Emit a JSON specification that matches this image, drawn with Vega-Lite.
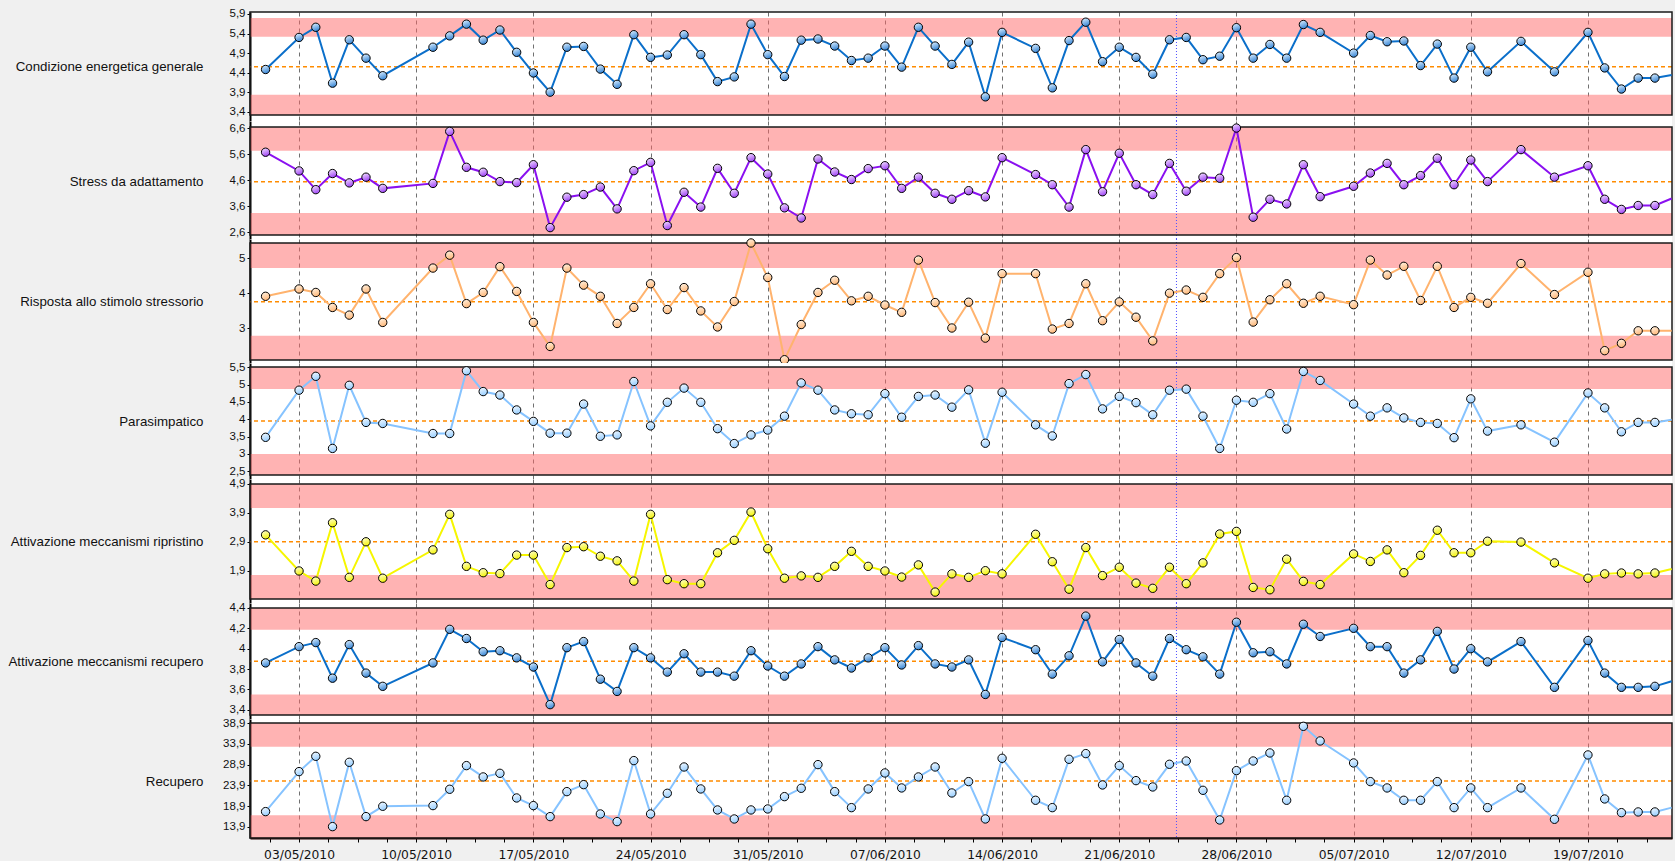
{
"$schema": "https://vega.github.io/schema/vega-lite/v6.json",
"background": "#F0F0F0",
"padding": {"left": 7, "top": 7, "right": 1, "bottom": 0},
"spacing": 0,
"bounds": "flush",
"config": {
  "font": "Liberation Sans",
  "view": {"stroke": null, "fill": "white"},
  "axis": {"labelOverlap": false, "labelFont": "Liberation Sans", "titleFont": "Liberation Sans", "labelFontSize": 11.5, "titleFontSize": 13.3, "titleFontWeight": "normal", "labelColor": "#111", "titleColor": "#111"}
},
"datasets": {
  "main": [
    {"d":"2010-05-01T00:00","a":4.48,"b":5.68,"c":3.91,"p":3.48,"r":3.14,"m":3.86,"u":17.55},
    {"d":"2010-05-03T00:00","a":5.30,"b":4.96,"c":4.12,"p":4.84,"r":1.89,"m":4.02,"u":27.22},
    {"d":"2010-05-04T00:00","a":5.56,"b":4.24,"c":4.02,"p":5.24,"r":1.54,"m":4.06,"u":30.92},
    {"d":"2010-05-05T00:00","a":4.13,"b":4.86,"c":3.59,"p":3.16,"r":3.56,"m":3.71,"u":13.92},
    {"d":"2010-05-06T00:00","a":5.24,"b":4.50,"c":3.37,"p":4.98,"r":1.67,"m":4.04,"u":29.47},
    {"d":"2010-05-07T00:00","a":4.77,"b":4.72,"c":4.12,"p":3.91,"r":2.90,"m":3.76,"u":16.34},
    {"d":"2010-05-08T00:00","a":4.32,"b":4.29,"c":3.16,"p":3.88,"r":1.64,"m":3.63,"u":18.84},
    {"d":"2010-05-11T00:00","a":5.05,"b":4.48,"c":4.72,"p":3.59,"r":2.62,"m":3.86,"u":19.00},
    {"d":"2010-05-12T00:00","a":5.34,"b":6.48,"c":5.09,"p":3.59,"r":3.85,"m":4.19,"u":22.95},
    {"d":"2010-05-13T00:00","a":5.64,"b":5.10,"c":3.70,"p":5.40,"r":2.05,"m":4.10,"u":28.67},
    {"d":"2010-05-14T00:00","a":5.23,"b":4.91,"c":4.02,"p":4.80,"r":1.83,"m":3.97,"u":25.93},
    {"d":"2010-05-15T00:00","a":5.49,"b":4.55,"c":4.76,"p":4.70,"r":1.80,"m":3.98,"u":26.81},
    {"d":"2010-05-16T00:00","a":4.92,"b":4.51,"c":4.05,"p":4.27,"r":2.44,"m":3.91,"u":20.85},
    {"d":"2010-05-17T00:00","a":4.39,"b":5.20,"c":3.16,"p":3.94,"r":2.44,"m":3.82,"u":19.00},
    {"d":"2010-05-18T00:00","a":3.90,"b":2.78,"c":2.47,"p":3.60,"r":1.42,"m":3.45,"u":16.34},
    {"d":"2010-05-19T00:00","a":5.05,"b":3.95,"c":4.72,"p":3.60,"r":2.70,"m":4.01,"u":22.38},
    {"d":"2010-05-20T00:00","a":5.07,"b":4.05,"c":4.23,"p":4.44,"r":2.73,"m":4.07,"u":24.07},
    {"d":"2010-05-21T00:00","a":4.49,"b":4.34,"c":3.91,"p":3.51,"r":2.40,"m":3.70,"u":16.98},
    {"d":"2010-05-22T00:00","a":4.10,"b":3.50,"c":3.13,"p":3.55,"r":2.24,"m":3.58,"u":15.13},
    {"d":"2010-05-23T00:00","a":5.37,"b":4.97,"c":3.59,"p":5.09,"r":1.54,"m":4.01,"u":29.88},
    {"d":"2010-05-24T00:00","a":4.79,"b":5.29,"c":4.27,"p":3.81,"r":3.85,"m":3.91,"u":16.98},
    {"d":"2010-05-25T00:00","a":4.85,"b":2.86,"c":3.53,"p":4.49,"r":1.59,"m":3.77,"u":21.98},
    {"d":"2010-05-26T00:00","a":5.37,"b":4.14,"c":4.16,"p":4.90,"r":1.45,"m":3.95,"u":28.34},
    {"d":"2010-05-27T00:00","a":4.86,"b":3.57,"c":3.49,"p":4.49,"r":1.45,"m":3.77,"u":23.03},
    {"d":"2010-05-28T00:00","a":4.17,"b":5.06,"c":3.03,"p":3.73,"r":2.52,"m":3.77,"u":17.95},
    {"d":"2010-05-29T00:00","a":4.29,"b":4.10,"c":3.76,"p":3.30,"r":2.95,"m":3.73,"u":15.77},
    {"d":"2010-05-30T00:00","a":5.64,"b":5.47,"c":5.44,"p":3.55,"r":3.93,"m":3.98,"u":17.95},
    {"d":"2010-05-31T00:00","a":4.86,"b":4.84,"c":4.45,"p":3.69,"r":2.66,"m":3.83,"u":18.19},
    {"d":"2010-06-01T00:00","a":4.30,"b":3.54,"c":2.09,"p":4.09,"r":1.64,"m":3.73,"u":21.17},
    {"d":"2010-06-02T00:00","a":5.23,"b":3.15,"c":3.10,"p":5.05,"r":1.72,"m":3.85,"u":23.19},
    {"d":"2010-06-03T00:00","a":5.26,"b":5.42,"c":4.02,"p":4.84,"r":1.67,"m":4.02,"u":28.91},
    {"d":"2010-06-04T00:00","a":5.08,"b":4.92,"c":4.37,"p":4.27,"r":2.05,"m":3.89,"u":22.38},
    {"d":"2010-06-05T00:00","a":4.71,"b":4.63,"c":3.78,"p":4.16,"r":2.57,"m":3.81,"u":18.51},
    {"d":"2010-06-06T00:00","a":4.77,"b":5.05,"c":3.91,"p":4.13,"r":2.05,"m":3.91,"u":23.03},
    {"d":"2010-06-07T00:00","a":5.08,"b":5.16,"c":3.66,"p":4.74,"r":1.89,"m":4.01,"u":26.89},
    {"d":"2010-06-08T00:00","a":4.54,"b":4.29,"c":3.45,"p":4.06,"r":1.68,"m":3.84,"u":23.27},
    {"d":"2010-06-09T00:00","a":5.56,"b":4.72,"c":4.95,"p":4.66,"r":2.10,"m":4.03,"u":25.93},
    {"d":"2010-06-10T00:00","a":5.08,"b":4.10,"c":3.73,"p":4.70,"r":1.16,"m":3.85,"u":28.34},
    {"d":"2010-06-11T00:00","a":4.61,"b":3.87,"c":3.00,"p":4.35,"r":1.79,"m":3.82,"u":22.06},
    {"d":"2010-06-12T00:00","a":5.18,"b":4.20,"c":3.74,"p":4.85,"r":1.67,"m":3.89,"u":24.80},
    {"d":"2010-06-13T00:00","a":3.78,"b":3.96,"c":2.71,"p":3.31,"r":1.90,"m":3.55,"u":15.77},
    {"d":"2010-06-14T00:00","a":5.43,"b":5.47,"c":4.56,"p":4.78,"r":1.79,"m":4.11,"u":30.44},
    {"d":"2010-06-16T00:00","a":5.02,"b":4.82,"c":4.56,"p":3.84,"r":3.16,"m":3.99,"u":20.29},
    {"d":"2010-06-17T00:00","a":4.01,"b":4.43,"c":2.97,"p":3.52,"r":2.21,"m":3.75,"u":18.51},
    {"d":"2010-06-18T00:00","a":5.22,"b":3.57,"c":3.13,"p":5.03,"r":1.26,"m":3.93,"u":30.20},
    {"d":"2010-06-19T00:00","a":5.69,"b":5.78,"c":4.27,"p":5.29,"r":2.70,"m":4.32,"u":31.57},
    {"d":"2010-06-20T00:00","a":4.68,"b":4.16,"c":3.21,"p":4.30,"r":1.73,"m":3.87,"u":23.99},
    {"d":"2010-06-21T00:00","a":5.05,"b":5.64,"c":3.75,"p":4.66,"r":2.02,"m":4.09,"u":28.67},
    {"d":"2010-06-22T00:00","a":4.79,"b":4.43,"c":3.31,"p":4.48,"r":1.47,"m":3.86,"u":25.04},
    {"d":"2010-06-23T00:00","a":4.36,"b":4.05,"c":2.63,"p":4.13,"r":1.29,"m":3.73,"u":23.51},
    {"d":"2010-06-24T00:00","a":5.24,"b":5.25,"c":4.00,"p":4.84,"r":2.02,"m":4.10,"u":28.99},
    {"d":"2010-06-25T00:00","a":5.30,"b":4.18,"c":4.09,"p":4.87,"r":1.45,"m":3.99,"u":29.79},
    {"d":"2010-06-26T00:00","a":4.73,"b":4.72,"c":3.88,"p":4.09,"r":2.17,"m":3.92,"u":22.70},
    {"d":"2010-06-27T00:00","a":4.82,"b":4.68,"c":4.56,"p":3.16,"r":3.17,"m":3.75,"u":15.53},
    {"d":"2010-06-28T00:00","a":5.55,"b":6.61,"c":5.02,"p":4.55,"r":3.26,"m":4.26,"u":27.46},
    {"d":"2010-06-29T00:00","a":4.77,"b":3.18,"c":3.17,"p":4.49,"r":1.32,"m":3.96,"u":29.79},
    {"d":"2010-06-30T00:00","a":5.12,"b":3.87,"c":3.81,"p":4.74,"r":1.24,"m":3.97,"u":31.73},
    {"d":"2010-07-01T00:00","a":4.77,"b":3.69,"c":4.27,"p":3.72,"r":2.30,"m":3.85,"u":20.29},
    {"d":"2010-07-02T00:00","a":5.63,"b":5.20,"c":3.71,"p":5.38,"r":1.53,"m":4.24,"u":38.17},
    {"d":"2010-07-03T00:00","a":5.43,"b":3.97,"c":3.91,"p":5.12,"r":1.42,"m":4.12,"u":34.63},
    {"d":"2010-07-05T00:00","a":4.90,"b":4.37,"c":3.67,"p":4.44,"r":2.48,"m":4.20,"u":29.31},
    {"d":"2010-07-06T00:00","a":5.35,"b":4.88,"c":4.95,"p":4.09,"r":2.22,"m":4.02,"u":24.80},
    {"d":"2010-07-07T00:00","a":5.19,"b":5.25,"c":4.52,"p":4.33,"r":2.62,"m":4.02,"u":23.27},
    {"d":"2010-07-08T00:00","a":5.21,"b":4.43,"c":4.77,"p":4.04,"r":1.83,"m":3.76,"u":20.29},
    {"d":"2010-07-09T00:00","a":4.58,"b":4.78,"c":3.79,"p":3.91,"r":2.43,"m":3.89,"u":20.29},
    {"d":"2010-07-10T00:00","a":5.13,"b":5.45,"c":4.77,"p":3.88,"r":3.30,"m":4.17,"u":24.80},
    {"d":"2010-07-11T00:00","a":4.26,"b":4.43,"c":3.59,"p":3.47,"r":2.52,"m":3.80,"u":18.51},
    {"d":"2010-07-12T00:00","a":5.05,"b":5.38,"c":3.88,"p":4.59,"r":2.52,"m":4.00,"u":23.27},
    {"d":"2010-07-13T00:00","a":4.42,"b":4.55,"c":3.71,"p":3.66,"r":2.92,"m":3.87,"u":18.51},
    {"d":"2010-07-15T00:00","a":5.20,"b":5.78,"c":4.85,"p":3.84,"r":2.89,"m":4.07,"u":23.27},
    {"d":"2010-07-17T00:00","a":4.42,"b":4.72,"c":3.96,"p":3.34,"r":2.17,"m":3.62,"u":15.69},
    {"d":"2010-07-19T00:00","a":5.43,"b":5.16,"c":4.60,"p":4.76,"r":1.64,"m":4.08,"u":31.25},
    {"d":"2010-07-20T00:00","a":4.52,"b":3.87,"c":2.35,"p":4.33,"r":1.79,"m":3.76,"u":20.61},
    {"d":"2010-07-21T00:00","a":3.98,"b":3.48,"c":2.56,"p":3.64,"r":1.82,"m":3.62,"u":17.30},
    {"d":"2010-07-22T00:00","a":4.26,"b":3.63,"c":2.92,"p":3.91,"r":1.79,"m":3.62,"u":17.47},
    {"d":"2010-07-23T00:00","a":4.26,"b":3.63,"c":2.92,"p":3.91,"r":1.82,"m":3.63,"u":17.47},
    {"d":"2010-07-24T00:00","a":4.34,"b":3.90,"c":2.92,"p":3.99,"r":1.96,"m":3.68,"u":18.51}
  ]
},
"vconcat": [
  {"width": 1422, "height": 109, "layer": [
    {"data": {"values": [{"lo": 5.32, "hi": 5.80}, {"lo": 3.316, "hi": 3.835}]}, "mark": {"type": "rect", "fill": "#FF6868", "opacity": 0.5},
     "encoding": {"y": {"field": "lo", "type": "quantitative", "scale": {"domain": [3.162, 5.951], "nice": false, "zero": false},
       "axis": {"values": [3.4, 3.9, 4.4, 4.9, 5.4, 5.9], "tickCount": 100, "labelExpr": "replace(datum.value + '', '.', ',')", "title": "Condizione energetica generale", "titleAngle": 0, "titleAlign": "right", "titleBaseline": "middle", "titleX": -47, "titleY": 54.7, "grid": false, "tickSize": 3, "tickColor": "#000", "domainColor": "#000", "domainWidth": 2, "labelPadding": 2, "labelOverlap": false}},
       "y2": {"field": "hi"}}},
    {"data": {"values": [{}]}, "mark": {"type": "rule", "color": "#FF8C00", "strokeDash": [4, 3], "strokeWidth": 1.5}, "encoding": {"y": {"datum": 4.55}}},
    {"data": {"values": [{}]}, "mark": {"type": "rule", "color": "#5050ff", "strokeDash": [1, 2], "strokeWidth": 1}, "encoding": {"x": {"datum": {"year": 2010, "month": 6, "date": 24, "hours": 10}, "type": "temporal"}}},
    {"data": {"values": [{}]}, "mark": {"type": "rect", "fill": "transparent", "stroke": "#1a1a1a", "strokeWidth": 1.5}, "encoding": {"y": {"datum": 3.316}, "y2": {"datum": 5.951}}},
    {"data": {"name": "main"}, "mark": {"type": "line", "color": "#0b6fca", "strokeWidth": 2},
     "encoding": {"x": {"field": "d", "type": "temporal", "scale": {"domain": [{"year": 2010, "month": 4, "date": 30, "hours": 1, "minutes": 40}, {"year": 2010, "month": 7, "date": 24, "minutes": 30}]},
       "axis": {"values": [{"year":2010,"month":5,"date":3},{"year":2010,"month":5,"date":10},{"year":2010,"month":5,"date":17},{"year":2010,"month":5,"date":24},{"year":2010,"month":5,"date":31},{"year":2010,"month":6,"date":7},{"year":2010,"month":6,"date":14},{"year":2010,"month":6,"date":21},{"year":2010,"month":6,"date":28},{"year":2010,"month":7,"date":5},{"year":2010,"month":7,"date":12},{"year":2010,"month":7,"date":19}], "tickCount": 100, "labels": false, "ticks": false, "domain": false, "grid": true, "gridDash": [4, 4], "gridColor": "#707070", "title": null}},
       "y": {"field": "a", "type": "quantitative", "axis": {"values": [3.4, 3.9, 4.4, 4.9, 5.4, 5.9], "tickCount": 100, "labelExpr": "replace(datum.value + '', '.', ',')", "title": "Condizione energetica generale", "labelOverlap": false}}}},
    {"data": {"name": "main"}, "transform": [{"filter": "time(datum.d) < time(datetime(2010, 6, 23, 12))"}],
     "mark": {"type": "circle", "size": 70, "opacity": 1, "stroke": "#000", "strokeWidth": 1, "fill": {"gradient": "linear", "x1": 0.3, "y1": 0, "x2": 0.7, "y2": 1, "stops": [{"offset": 0, "color": "#d6ecff"}, {"offset": 1, "color": "#2e7fd2"}]}},
     "encoding": {"x": {"field": "d", "type": "temporal"}, "y": {"field": "a", "type": "quantitative"}}}
  ]},
  {"width": 1422, "height": 118, "layer": [
    {"data": {"values": [{"lo": 5.74, "hi": 6.65}, {"lo": 2.496, "hi": 3.34}]}, "mark": {"type": "rect", "fill": "#FF6868", "opacity": 0.5},
     "encoding": {"y": {"field": "lo", "type": "quantitative", "scale": {"domain": [2.342, 6.881], "nice": false, "zero": false},
       "axis": {"values": [2.6, 3.6, 4.6, 5.6, 6.6], "tickCount": 100, "labelExpr": "replace(datum.value + '', '.', ',')", "title": "Stress da adattamento", "titleAngle": 0, "titleAlign": "right", "titleBaseline": "middle", "titleX": -47, "titleY": 60.7, "grid": false, "tickSize": 3, "tickColor": "#000", "domainColor": "#000", "domainWidth": 2, "labelPadding": 2, "labelOverlap": false}},
       "y2": {"field": "hi"}}},
    {"data": {"values": [{}]}, "mark": {"type": "rule", "color": "#FF8C00", "strokeDash": [4, 3], "strokeWidth": 1.5}, "encoding": {"y": {"datum": 4.546}}},
    {"data": {"values": [{}]}, "mark": {"type": "rule", "color": "#5050ff", "strokeDash": [1, 2], "strokeWidth": 1}, "encoding": {"x": {"datum": {"year": 2010, "month": 6, "date": 24, "hours": 10}, "type": "temporal"}}},
    {"data": {"values": [{}]}, "mark": {"type": "rect", "fill": "transparent", "stroke": "#1a1a1a", "strokeWidth": 1.5}, "encoding": {"y": {"datum": 2.496}, "y2": {"datum": 6.65}}},
    {"data": {"name": "main"}, "mark": {"type": "line", "color": "#8a10f0", "strokeWidth": 2},
     "encoding": {"x": {"field": "d", "type": "temporal", "scale": {"domain": [{"year": 2010, "month": 4, "date": 30, "hours": 1, "minutes": 40}, {"year": 2010, "month": 7, "date": 24, "minutes": 30}]},
       "axis": {"values": [{"year":2010,"month":5,"date":3},{"year":2010,"month":5,"date":10},{"year":2010,"month":5,"date":17},{"year":2010,"month":5,"date":24},{"year":2010,"month":5,"date":31},{"year":2010,"month":6,"date":7},{"year":2010,"month":6,"date":14},{"year":2010,"month":6,"date":21},{"year":2010,"month":6,"date":28},{"year":2010,"month":7,"date":5},{"year":2010,"month":7,"date":12},{"year":2010,"month":7,"date":19}], "tickCount": 100, "labels": false, "ticks": false, "domain": false, "grid": true, "gridDash": [4, 4], "gridColor": "#707070", "title": null}},
       "y": {"field": "b", "type": "quantitative", "axis": {"values": [2.6, 3.6, 4.6, 5.6, 6.6], "tickCount": 100, "labelExpr": "replace(datum.value + '', '.', ',')", "title": "Stress da adattamento", "labelOverlap": false}}}},
    {"data": {"name": "main"}, "transform": [{"filter": "time(datum.d) < time(datetime(2010, 6, 23, 12))"}],
     "mark": {"type": "circle", "size": 70, "opacity": 1, "stroke": "#000", "strokeWidth": 1, "fill": {"gradient": "linear", "x1": 0.3, "y1": 0, "x2": 0.7, "y2": 1, "stops": [{"offset": 0, "color": "#efd9ff"}, {"offset": 1, "color": "#9b3df5"}]}},
     "encoding": {"x": {"field": "d", "type": "temporal"}, "y": {"field": "b", "type": "quantitative"}}}
  ]},
  {"width": 1422, "height": 124, "layer": [
    {"data": {"values": [{"lo": 4.72, "hi": 5.439}, {"lo": 2.082, "hi": 2.78}]}, "mark": {"type": "rect", "fill": "#FF6868", "opacity": 0.5},
     "encoding": {"y": {"field": "lo", "type": "quantitative", "scale": {"domain": [1.996, 5.554], "nice": false, "zero": false},
       "axis": {"values": [3, 4, 5], "tickCount": 100, "labelExpr": "replace(datum.value + '', '.', ',')", "title": "Risposta allo stimolo stressorio", "titleAngle": 0, "titleAlign": "right", "titleBaseline": "middle", "titleX": -47, "titleY": 62.7, "grid": false, "tickSize": 3, "tickColor": "#000", "domainColor": "#000", "domainWidth": 2, "labelPadding": 2, "labelOverlap": false}},
       "y2": {"field": "hi"}}},
    {"data": {"values": [{}]}, "mark": {"type": "rule", "color": "#FF8C00", "strokeDash": [4, 3], "strokeWidth": 1.5}, "encoding": {"y": {"datum": 3.755}}},
    {"data": {"values": [{}]}, "mark": {"type": "rule", "color": "#5050ff", "strokeDash": [1, 2], "strokeWidth": 1}, "encoding": {"x": {"datum": {"year": 2010, "month": 6, "date": 24, "hours": 10}, "type": "temporal"}}},
    {"data": {"values": [{}]}, "mark": {"type": "rect", "fill": "transparent", "stroke": "#1a1a1a", "strokeWidth": 1.5}, "encoding": {"y": {"datum": 2.082}, "y2": {"datum": 5.439}}},
    {"data": {"name": "main"}, "mark": {"type": "line", "color": "#ffb36e", "strokeWidth": 2},
     "encoding": {"x": {"field": "d", "type": "temporal", "scale": {"domain": [{"year": 2010, "month": 4, "date": 30, "hours": 1, "minutes": 40}, {"year": 2010, "month": 7, "date": 24, "minutes": 30}]},
       "axis": {"values": [{"year":2010,"month":5,"date":3},{"year":2010,"month":5,"date":10},{"year":2010,"month":5,"date":17},{"year":2010,"month":5,"date":24},{"year":2010,"month":5,"date":31},{"year":2010,"month":6,"date":7},{"year":2010,"month":6,"date":14},{"year":2010,"month":6,"date":21},{"year":2010,"month":6,"date":28},{"year":2010,"month":7,"date":5},{"year":2010,"month":7,"date":12},{"year":2010,"month":7,"date":19}], "tickCount": 100, "labels": false, "ticks": false, "domain": false, "grid": true, "gridDash": [4, 4], "gridColor": "#707070", "title": null}},
       "y": {"field": "c", "type": "quantitative", "axis": {"values": [3, 4, 5], "tickCount": 100, "labelExpr": "replace(datum.value + '', '.', ',')", "title": "Risposta allo stimolo stressorio", "labelOverlap": false}}}},
    {"data": {"name": "main"}, "transform": [{"filter": "time(datum.d) < time(datetime(2010, 6, 23, 12))"}],
     "mark": {"type": "circle", "size": 70, "opacity": 1, "stroke": "#000", "strokeWidth": 1, "fill": {"gradient": "linear", "x1": 0.3, "y1": 0, "x2": 0.7, "y2": 1, "stops": [{"offset": 0, "color": "#fff0de"}, {"offset": 1, "color": "#ffb574"}]}},
     "encoding": {"x": {"field": "d", "type": "temporal"}, "y": {"field": "c", "type": "quantitative"}}}
  ]},
  {"width": 1422, "height": 116, "layer": [
    {"data": {"values": [{"lo": 4.874, "hi": 5.509}, {"lo": 2.394, "hi": 3.0}]}, "mark": {"type": "rect", "fill": "#FF6868", "opacity": 0.5},
     "encoding": {"y": {"field": "lo", "type": "quantitative", "scale": {"domain": [2.278, 5.624], "nice": false, "zero": false},
       "axis": {"values": [2.5, 3, 3.5, 4, 4.5, 5, 5.5], "tickCount": 100, "labelExpr": "replace(datum.value + '', '.', ',')", "title": "Parasimpatico", "titleAngle": 0, "titleAlign": "right", "titleBaseline": "middle", "titleX": -47, "titleY": 58, "grid": false, "tickSize": 3, "tickColor": "#000", "domainColor": "#000", "domainWidth": 2, "labelPadding": 2, "labelOverlap": false}},
       "y2": {"field": "hi"}}},
    {"data": {"values": [{}]}, "mark": {"type": "rule", "color": "#FF8C00", "strokeDash": [4, 3], "strokeWidth": 1.5}, "encoding": {"y": {"datum": 3.951}}},
    {"data": {"values": [{}]}, "mark": {"type": "rule", "color": "#5050ff", "strokeDash": [1, 2], "strokeWidth": 1}, "encoding": {"x": {"datum": {"year": 2010, "month": 6, "date": 24, "hours": 10}, "type": "temporal"}}},
    {"data": {"values": [{}]}, "mark": {"type": "rect", "fill": "transparent", "stroke": "#1a1a1a", "strokeWidth": 1.5}, "encoding": {"y": {"datum": 2.394}, "y2": {"datum": 5.509}}},
    {"data": {"name": "main"}, "mark": {"type": "line", "color": "#86c3ff", "strokeWidth": 2},
     "encoding": {"x": {"field": "d", "type": "temporal", "scale": {"domain": [{"year": 2010, "month": 4, "date": 30, "hours": 1, "minutes": 40}, {"year": 2010, "month": 7, "date": 24, "minutes": 30}]},
       "axis": {"values": [{"year":2010,"month":5,"date":3},{"year":2010,"month":5,"date":10},{"year":2010,"month":5,"date":17},{"year":2010,"month":5,"date":24},{"year":2010,"month":5,"date":31},{"year":2010,"month":6,"date":7},{"year":2010,"month":6,"date":14},{"year":2010,"month":6,"date":21},{"year":2010,"month":6,"date":28},{"year":2010,"month":7,"date":5},{"year":2010,"month":7,"date":12},{"year":2010,"month":7,"date":19}], "tickCount": 100, "labels": false, "ticks": false, "domain": false, "grid": true, "gridDash": [4, 4], "gridColor": "#707070", "title": null}},
       "y": {"field": "p", "type": "quantitative", "axis": {"values": [2.5, 3, 3.5, 4, 4.5, 5, 5.5], "tickCount": 100, "labelExpr": "replace(datum.value + '', '.', ',')", "title": "Parasimpatico", "labelOverlap": false}}}},
    {"data": {"name": "main"}, "transform": [{"filter": "time(datum.d) < time(datetime(2010, 6, 23, 12))"}],
     "mark": {"type": "circle", "size": 70, "opacity": 1, "stroke": "#000", "strokeWidth": 1, "fill": {"gradient": "linear", "x1": 0.3, "y1": 0, "x2": 0.7, "y2": 1, "stops": [{"offset": 0, "color": "#eef7ff"}, {"offset": 1, "color": "#93ccff"}]}},
     "encoding": {"x": {"field": "d", "type": "temporal"}, "y": {"field": "p", "type": "quantitative"}}}
  ]},
  {"width": 1422, "height": 124, "layer": [
    {"data": {"values": [{"lo": 4.07, "hi": 4.9}, {"lo": 0.921, "hi": 1.751}]}, "mark": {"type": "rect", "fill": "#FF6868", "opacity": 0.5},
     "encoding": {"y": {"field": "lo", "type": "quantitative", "scale": {"domain": [0.782, 5.073], "nice": false, "zero": false},
       "axis": {"values": [1.9, 2.9, 3.9, 4.9], "tickCount": 100, "labelExpr": "replace(datum.value + '', '.', ',')", "title": "Attivazione meccanismi ripristino", "titleAngle": 0, "titleAlign": "right", "titleBaseline": "middle", "titleX": -47, "titleY": 62.8, "grid": false, "tickSize": 3, "tickColor": "#000", "domainColor": "#000", "domainWidth": 2, "labelPadding": 2, "labelOverlap": false}},
       "y2": {"field": "hi"}}},
    {"data": {"values": [{}]}, "mark": {"type": "rule", "color": "#FF8C00", "strokeDash": [4, 3], "strokeWidth": 1.5}, "encoding": {"y": {"datum": 2.9}}},
    {"data": {"values": [{}]}, "mark": {"type": "rule", "color": "#5050ff", "strokeDash": [1, 2], "strokeWidth": 1}, "encoding": {"x": {"datum": {"year": 2010, "month": 6, "date": 24, "hours": 10}, "type": "temporal"}}},
    {"data": {"values": [{}]}, "mark": {"type": "rect", "fill": "transparent", "stroke": "#1a1a1a", "strokeWidth": 1.5}, "encoding": {"y": {"datum": 0.921}, "y2": {"datum": 4.9}}},
    {"data": {"name": "main"}, "mark": {"type": "line", "color": "#f6f600", "strokeWidth": 2},
     "encoding": {"x": {"field": "d", "type": "temporal", "scale": {"domain": [{"year": 2010, "month": 4, "date": 30, "hours": 1, "minutes": 40}, {"year": 2010, "month": 7, "date": 24, "minutes": 30}]},
       "axis": {"values": [{"year":2010,"month":5,"date":3},{"year":2010,"month":5,"date":10},{"year":2010,"month":5,"date":17},{"year":2010,"month":5,"date":24},{"year":2010,"month":5,"date":31},{"year":2010,"month":6,"date":7},{"year":2010,"month":6,"date":14},{"year":2010,"month":6,"date":21},{"year":2010,"month":6,"date":28},{"year":2010,"month":7,"date":5},{"year":2010,"month":7,"date":12},{"year":2010,"month":7,"date":19}], "tickCount": 100, "labels": false, "ticks": false, "domain": false, "grid": true, "gridDash": [4, 4], "gridColor": "#707070", "title": null}},
       "y": {"field": "r", "type": "quantitative", "axis": {"values": [1.9, 2.9, 3.9, 4.9], "tickCount": 100, "labelExpr": "replace(datum.value + '', '.', ',')", "title": "Attivazione meccanismi ripristino", "labelOverlap": false}}}},
    {"data": {"name": "main"}, "transform": [{"filter": "time(datum.d) < time(datetime(2010, 6, 23, 12))"}],
     "mark": {"type": "circle", "size": 70, "opacity": 1, "stroke": "#000", "strokeWidth": 1, "fill": {"gradient": "linear", "x1": 0.3, "y1": 0, "x2": 0.7, "y2": 1, "stops": [{"offset": 0, "color": "#ffffc8"}, {"offset": 1, "color": "#f2f200"}]}},
     "encoding": {"x": {"field": "d", "type": "temporal"}, "y": {"field": "r", "type": "quantitative"}}}
  ]},
  {"width": 1422, "height": 116, "layer": [
    {"data": {"values": [{"lo": 4.187, "hi": 4.4}, {"lo": 3.348, "hi": 3.551}]}, "mark": {"type": "rect", "fill": "#FF6868", "opacity": 0.5},
     "encoding": {"y": {"field": "lo", "type": "quantitative", "scale": {"domain": [3.309, 4.449], "nice": false, "zero": false},
       "axis": {"values": [3.4, 3.6, 3.8, 4, 4.2, 4.4], "tickCount": 100, "labelExpr": "replace(datum.value + '', '.', ',')", "title": "Attivazione meccanismi recupero", "titleAngle": 0, "titleAlign": "right", "titleBaseline": "middle", "titleX": -47, "titleY": 58.3, "grid": false, "tickSize": 3, "tickColor": "#000", "domainColor": "#000", "domainWidth": 2, "labelPadding": 2, "labelOverlap": false}},
       "y2": {"field": "hi"}}},
    {"data": {"values": [{}]}, "mark": {"type": "rule", "color": "#FF8C00", "strokeDash": [4, 3], "strokeWidth": 1.5}, "encoding": {"y": {"datum": 3.876}}},
    {"data": {"values": [{}]}, "mark": {"type": "rule", "color": "#5050ff", "strokeDash": [1, 2], "strokeWidth": 1}, "encoding": {"x": {"datum": {"year": 2010, "month": 6, "date": 24, "hours": 10}, "type": "temporal"}}},
    {"data": {"values": [{}]}, "mark": {"type": "rect", "fill": "transparent", "stroke": "#1a1a1a", "strokeWidth": 1.5}, "encoding": {"y": {"datum": 3.348}, "y2": {"datum": 4.4}}},
    {"data": {"name": "main"}, "mark": {"type": "line", "color": "#0b6fca", "strokeWidth": 2},
     "encoding": {"x": {"field": "d", "type": "temporal", "scale": {"domain": [{"year": 2010, "month": 4, "date": 30, "hours": 1, "minutes": 40}, {"year": 2010, "month": 7, "date": 24, "minutes": 30}]},
       "axis": {"values": [{"year":2010,"month":5,"date":3},{"year":2010,"month":5,"date":10},{"year":2010,"month":5,"date":17},{"year":2010,"month":5,"date":24},{"year":2010,"month":5,"date":31},{"year":2010,"month":6,"date":7},{"year":2010,"month":6,"date":14},{"year":2010,"month":6,"date":21},{"year":2010,"month":6,"date":28},{"year":2010,"month":7,"date":5},{"year":2010,"month":7,"date":12},{"year":2010,"month":7,"date":19}], "tickCount": 100, "labels": false, "ticks": false, "domain": false, "grid": true, "gridDash": [4, 4], "gridColor": "#707070", "title": null}},
       "y": {"field": "m", "type": "quantitative", "axis": {"values": [3.4, 3.6, 3.8, 4, 4.2, 4.4], "tickCount": 100, "labelExpr": "replace(datum.value + '', '.', ',')", "title": "Attivazione meccanismi recupero", "labelOverlap": false}}}},
    {"data": {"name": "main"}, "transform": [{"filter": "time(datum.d) < time(datetime(2010, 6, 23, 12))"}],
     "mark": {"type": "circle", "size": 70, "opacity": 1, "stroke": "#000", "strokeWidth": 1, "fill": {"gradient": "linear", "x1": 0.3, "y1": 0, "x2": 0.7, "y2": 1, "stops": [{"offset": 0, "color": "#d6ecff"}, {"offset": 1, "color": "#2e7fd2"}]}},
     "encoding": {"x": {"field": "d", "type": "temporal"}, "y": {"field": "m", "type": "quantitative"}}}
  ]},
  {"width": 1422, "height": 119, "layer": [
    {"data": {"values": [{"lo": 33.24, "hi": 38.97}, {"lo": 11.17, "hi": 16.66}]}, "mark": {"type": "rect", "fill": "#FF6868", "opacity": 0.5},
     "encoding": {"y": {"field": "lo", "type": "quantitative", "scale": {"domain": [11.17, 39.94], "nice": false, "zero": false},
       "axis": {"values": [13.9, 18.9, 23.9, 28.9, 33.9, 38.9], "tickCount": 100, "labelExpr": "replace(datum.value + '', '.', ',')", "title": "Recupero", "titleAngle": 0, "titleAlign": "right", "titleBaseline": "middle", "titleX": -47, "titleY": 62, "grid": false, "tickSize": 3, "tickColor": "#000", "domainColor": "#000", "domainWidth": 2, "labelPadding": 2, "labelOverlap": false}},
       "y2": {"field": "hi"}}},
    {"data": {"values": [{}]}, "mark": {"type": "rule", "color": "#FF8C00", "strokeDash": [4, 3], "strokeWidth": 1.5}, "encoding": {"y": {"datum": 24.95}}},
    {"data": {"values": [{}]}, "mark": {"type": "rule", "color": "#5050ff", "strokeDash": [1, 2], "strokeWidth": 1}, "encoding": {"x": {"datum": {"year": 2010, "month": 6, "date": 24, "hours": 10}, "type": "temporal"}}},
    {"data": {"values": [{}]}, "mark": {"type": "rect", "fill": "transparent", "stroke": "#1a1a1a", "strokeWidth": 1.5}, "encoding": {"y": {"datum": 11.17}, "y2": {"datum": 38.97}}},
    {"data": {"name": "main"}, "mark": {"type": "line", "color": "#86c3ff", "strokeWidth": 2},
     "encoding": {"x": {"field": "d", "type": "temporal", "scale": {"domain": [{"year": 2010, "month": 4, "date": 30, "hours": 1, "minutes": 40}, {"year": 2010, "month": 7, "date": 24, "minutes": 30}]},
       "axis": {"values": [{"year":2010,"month":5,"date":1,"hours":6},
         {"year":2010,"month":5,"date":3},{"year":2010,"month":5,"date":4,"hours":18},{"year":2010,"month":5,"date":6,"hours":12},{"year":2010,"month":5,"date":8,"hours":6},
         {"year":2010,"month":5,"date":10},{"year":2010,"month":5,"date":11,"hours":18},{"year":2010,"month":5,"date":13,"hours":12},{"year":2010,"month":5,"date":15,"hours":6},
         {"year":2010,"month":5,"date":17},{"year":2010,"month":5,"date":18,"hours":18},{"year":2010,"month":5,"date":20,"hours":12},{"year":2010,"month":5,"date":22,"hours":6},
         {"year":2010,"month":5,"date":24},{"year":2010,"month":5,"date":25,"hours":18},{"year":2010,"month":5,"date":27,"hours":12},{"year":2010,"month":5,"date":29,"hours":6},
         {"year":2010,"month":5,"date":31},{"year":2010,"month":6,"date":1,"hours":18},{"year":2010,"month":6,"date":3,"hours":12},{"year":2010,"month":6,"date":5,"hours":6},
         {"year":2010,"month":6,"date":7},{"year":2010,"month":6,"date":8,"hours":18},{"year":2010,"month":6,"date":10,"hours":12},{"year":2010,"month":6,"date":12,"hours":6},
         {"year":2010,"month":6,"date":14},{"year":2010,"month":6,"date":15,"hours":18},{"year":2010,"month":6,"date":17,"hours":12},{"year":2010,"month":6,"date":19,"hours":6},
         {"year":2010,"month":6,"date":21},{"year":2010,"month":6,"date":22,"hours":18},{"year":2010,"month":6,"date":24,"hours":12},{"year":2010,"month":6,"date":26,"hours":6},
         {"year":2010,"month":6,"date":28},{"year":2010,"month":6,"date":29,"hours":18},{"year":2010,"month":7,"date":1,"hours":12},{"year":2010,"month":7,"date":3,"hours":6},
         {"year":2010,"month":7,"date":5},{"year":2010,"month":7,"date":6,"hours":18},{"year":2010,"month":7,"date":8,"hours":12},{"year":2010,"month":7,"date":10,"hours":6},
         {"year":2010,"month":7,"date":12},{"year":2010,"month":7,"date":13,"hours":18},{"year":2010,"month":7,"date":15,"hours":12},{"year":2010,"month":7,"date":17,"hours":6},
         {"year":2010,"month":7,"date":19},{"year":2010,"month":7,"date":20,"hours":18},{"year":2010,"month":7,"date":22,"hours":12}],
         "tickCount": 200,
         "labelExpr": "day(datum.value) == 1 && hours(datum.value) == 0 ? timeFormat(datum.value, '%d/%m/%Y') : ''",
         "labelOverlap": false, "labelFont": "DejaVu Sans", "labelFontSize": 12.3, "labelColor": "#111", "labelPadding": 6, "tickSize": 4, "tickColor": "#000", "domain": true, "domainColor": "#2a0000", "domainWidth": 2,
         "grid": true, "gridDash": [4, 4], "gridColor": "#707070", "gridOpacity": {"condition": {"test": "day(datum.value) == 1 && hours(datum.value) == 0", "value": 1}, "value": 0}, "title": null}},
       "y": {"field": "u", "type": "quantitative", "axis": {"values": [13.9, 18.9, 23.9, 28.9, 33.9, 38.9], "tickCount": 100, "labelExpr": "replace(datum.value + '', '.', ',')", "title": "Recupero", "labelOverlap": false}}}},
    {"data": {"name": "main"}, "transform": [{"filter": "time(datum.d) < time(datetime(2010, 6, 23, 12))"}],
     "mark": {"type": "circle", "size": 70, "opacity": 1, "stroke": "#000", "strokeWidth": 1, "fill": {"gradient": "linear", "x1": 0.3, "y1": 0, "x2": 0.7, "y2": 1, "stops": [{"offset": 0, "color": "#eef7ff"}, {"offset": 1, "color": "#93ccff"}]}},
     "encoding": {"x": {"field": "d", "type": "temporal"}, "y": {"field": "u", "type": "quantitative"}}}
  ]}
]
}
